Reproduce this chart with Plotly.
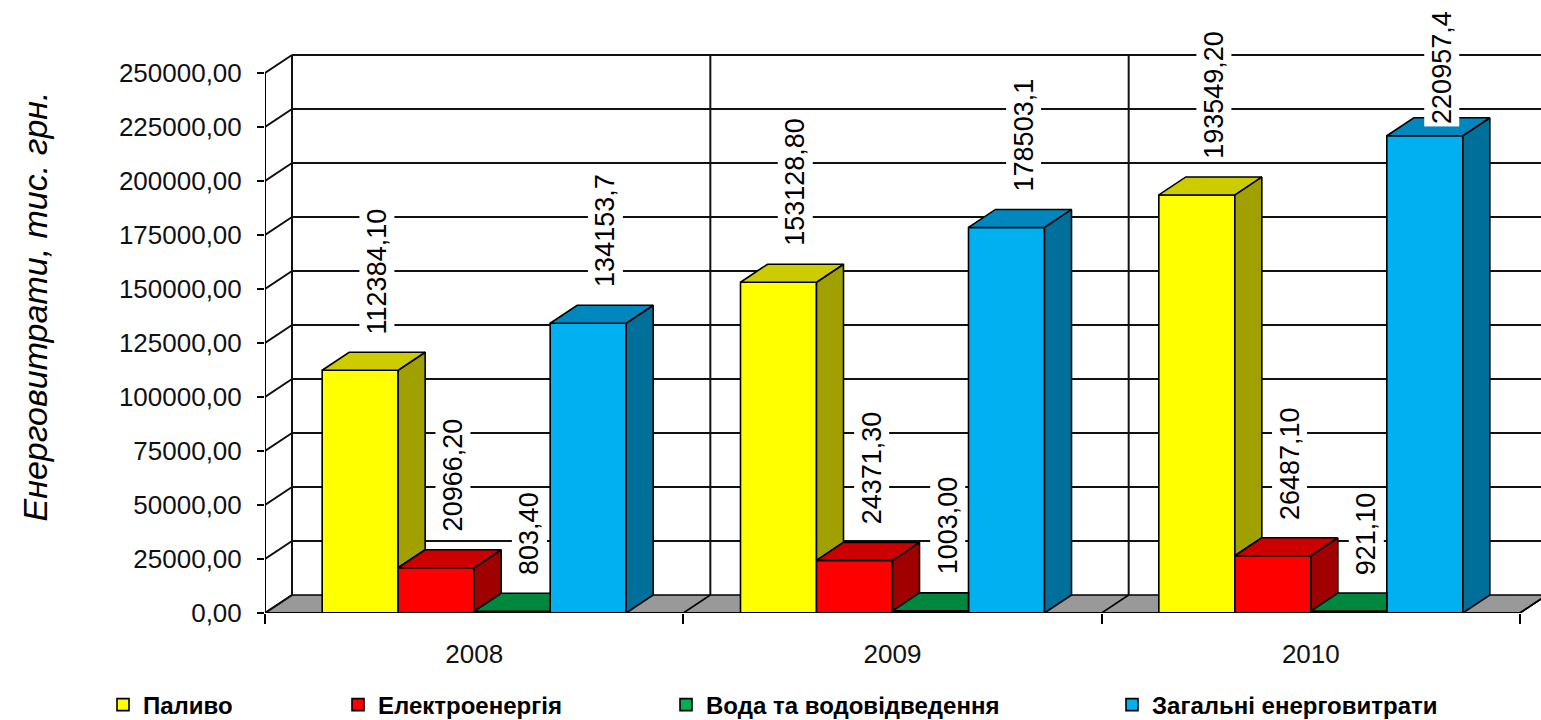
import plotly.graph_objects as go

# ---------------- data ----------------
years = ["2008", "2009", "2010"]
series_names = ["Паливо", "Електроенергія", "Вода та водовідведення", "Загальні енерговитрати"]
fuel = [112384.10, 153128.80, 193549.20]
electricity = [20966.20, 24371.30, 26487.10]
water = [803.40, 1003.00, 921.10]
total = [134153.7, 178503.1, 220957.4]
label_decimals = [2, 2, 2, 1]
y_ticks = [0, 25000, 50000, 75000, 100000, 125000, 150000, 175000, 200000, 225000, 250000]
y_title = "Енерговитрати, тис. грн."

series = [fuel, electricity, water, total]

# ---------------- style ----------------
front_colors = ["#FFFF00", "#FF0000", "#00B050", "#00B0F0"]
top_colors = ["#CCCC00", "#CC0000", "#00873E", "#0088BE"]
side_colors = ["#A0A000", "#A00000", "#006830", "#00709A"]
FONT = "Liberation Sans, Arial, sans-serif"

W, H = 1541, 720
ML, MR, MT, MB = 265, 0, 0, 107
PLOT_W = W - ML - MR
PLOT_H = H - MT - MB
PX_PER_X = 1255 / 3.0            # pixels per category
PX_PER_Y = 540 / 250000.0        # pixels per value unit
X_RANGE = [-0.5, -0.5 + PLOT_W / PX_PER_X]
Y_RANGE = [0, PLOT_H / PX_PER_Y]
DX = 27 / PX_PER_X               # 3D depth, x
DY = 18 / PX_PER_Y               # 3D depth, y
GROUP = 304 / PX_PER_X
BW = GROUP / 4                   # bar width
LW = 1.6
EDGE = "#000000"
YMAX = y_ticks[-1]

fig = go.Figure()

legend_ids = ["legend", "legend2", "legend3", "legend4"]
offsets = [-GROUP / 2 + k * BW for k in range(4)]

# front faces
for k, (name, vals) in enumerate(zip(series_names, series)):
    fig.add_trace(go.Bar(
        x=list(range(len(years))), y=vals, width=BW, offset=offsets[k],
        name=name, legend=legend_ids[k],
        marker=dict(color=front_colors[k], line=dict(color=EDGE, width=LW)),
        hovertemplate=name + ": %{y}<extra></extra>",
    ))


def poly(xs, ys, color):
    fig.add_trace(go.Scatter(
        x=xs + [xs[0]], y=ys + [ys[0]], mode="lines", fill="toself",
        fillcolor=color, line=dict(color=EDGE, width=LW),
        showlegend=False, hoverinfo="skip",
    ))


# side and top faces (hidden parts clipped against the neighbouring bar)
for i in range(len(years)):
    for k in range(4):
        v = series[k][i]
        vn = series[k + 1][i] if k < 3 else None
        x0 = i + offsets[k]
        x1 = x0 + BW
        # side face
        if vn is None:
            poly([x1, x1, x1 + DX, x1 + DX], [0, v, v + DY, DY], side_colors[k])
        elif vn < v:
            poly([x1, x1, x1 + DX, x1 + DX], [vn, v, v + DY, vn + DY], side_colors[k])
        # top face
        if vn is not None and vn > v:
            poly([x0, x1, x1, x0 + DX], [v, v, v + DY, v + DY], top_colors[k])
        else:
            poly([x0, x1, x1 + DX, x0 + DX], [v, v, v + DY, v + DY], top_colors[k])

# ---------------- walls, floor, axis lines (shapes below traces) ----------------
shapes = []
left = X_RANGE[0]
right_front = len(years) - 0.5
bounds = [b - 0.5 for b in range(len(years) + 1)]

# floor
shapes.append(dict(
    type="path", xref="x", yref="y", layer="below",
    path=f"M{left},0 L{right_front},0 L{right_front + DX},{DY} L{left + DX},{DY} Z",
    fillcolor="#999999", line=dict(color=EDGE, width=LW),
))
# back-wall horizontal gridlines
for t in y_ticks[1:]:
    shapes.append(dict(type="line", xref="x", yref="y", layer="below",
                       x0=left + DX, x1=X_RANGE[1] + 0.1, y0=t + DY, y1=t + DY,
                       line=dict(color="#111111", width=2)))
# side-wall diagonals
for t in y_ticks:
    shapes.append(dict(type="line", xref="x", yref="y", layer="below",
                       x0=left, x1=left + DX, y0=t, y1=t + DY,
                       line=dict(color="#111111", width=2)))
# back-wall verticals at category boundaries
for b in bounds:
    shapes.append(dict(type="line", xref="x", yref="y", layer="below",
                       x0=b + DX, x1=b + DX, y0=DY, y1=YMAX + DY,
                       line=dict(color="#111111", width=2)))
# floor diagonals
for b in bounds[1:]:
    shapes.append(dict(type="line", xref="x", yref="y", layer="below",
                       x0=b, x1=b + DX, y0=0, y1=DY,
                       line=dict(color=EDGE, width=LW)))
# value axis line and category axis line
shapes.append(dict(type="line", xref="x", yref="y", layer="below",
                   x0=left, x1=left, y0=0, y1=YMAX, line=dict(color=EDGE, width=2)))
shapes.append(dict(type="line", xref="x", yref="y", layer="above",
                   x0=left, x1=right_front, y0=0, y1=0, line=dict(color=EDGE, width=2)))

# ---------------- data labels ----------------
LABEL_FS = 27
TOP_LIMIT = (PLOT_H - 8) / PX_PER_Y
LABEL_DX = 17 / PX_PER_X
annotations = []
for i in range(len(years)):
    for k in range(4):
        v = series[k][i]
        txt = f"{v:.{label_decimals[k]}f}".replace(".", ",")
        length_px = sum(0.278 if c == "," else 0.556 for c in txt) * LABEL_FS + 6
        bottom = v + DY + 15 / PX_PER_Y
        if bottom + length_px / PX_PER_Y > TOP_LIMIT:
            bottom = TOP_LIMIT - length_px / PX_PER_Y
        annotations.append(dict(
            x=i + offsets[k] + BW / 2 + LABEL_DX, y=bottom, xref="x", yref="y",
            text=txt, textangle=-90, showarrow=False,
            xanchor="center", yanchor="bottom",
            bgcolor="white", borderpad=2,
            font=dict(family=FONT, size=LABEL_FS, color="#000000"),
        ))

# ---------------- layout ----------------
def lx(px):
    return (px - ML) / PLOT_W


LEG_Y = (PLOT_H + MT - 705) / PLOT_H
leg_common = dict(orientation="h", yanchor="middle", xanchor="left", y=LEG_Y,
                  bgcolor="rgba(0,0,0,0)", borderwidth=0,
                  font=dict(family=FONT, size=24, color="#000000", weight="bold"))

fig.update_layout(
    width=W, height=H,
    margin=dict(l=ML, r=MR, t=MT, b=MB, autoexpand=False),
    paper_bgcolor="white", plot_bgcolor="white",
    barmode="overlay",
    shapes=shapes, annotations=annotations,
    legend=dict(x=lx(103), **leg_common),
    legend2=dict(x=lx(338), **leg_common),
    legend3=dict(x=lx(666), **leg_common),
    legend4=dict(x=lx(1112), **leg_common),
    xaxis=dict(
        range=X_RANGE, showgrid=False, zeroline=False, showline=False,
        tickvals=list(range(len(years))), ticktext=years, ticks="",
        ticklabelstandoff=23,
        tickfont=dict(family=FONT, size=26, color="#111111"),
        minor=dict(tickvals=bounds, ticks="outside", ticklen=10, tickwidth=1.5, tickcolor=EDGE),
        automargin=False, fixedrange=True,
    ),
    yaxis=dict(
        range=Y_RANGE, showgrid=False, zeroline=False, showline=False,
        tickvals=y_ticks, ticktext=[f"{t:.2f}".replace(".", ",") for t in y_ticks],
        ticks="outside", ticklen=7, tickwidth=1.5, tickcolor=EDGE,
        ticklabelstandoff=10,
        tickfont=dict(family=FONT, size=26, color="#111111"),
        title=dict(text=y_title, standoff=60,
                   font=dict(family=FONT, size=34, color="#000000", style="italic")),
        automargin=False, fixedrange=True,
    ),
)

fig.write_html("out.html")
